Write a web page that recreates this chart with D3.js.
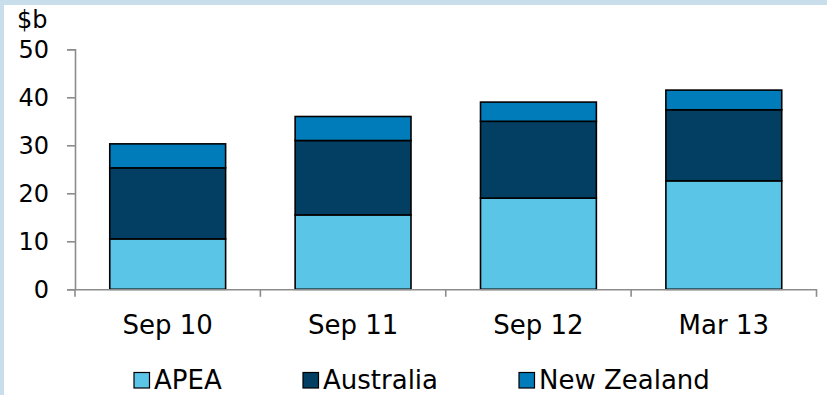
<!DOCTYPE html>
<html>
<head>
<meta charset="utf-8">
<script src="https://cdn.jsdelivr.net/npm/d3@7"></script>
<style>
  html, body { margin: 0; padding: 0; background: #fff; }
  svg { display: block; }
  text { font-family: "DejaVu Sans", Verdana, sans-serif; fill: #000; }
</style>
</head>
<body>
<svg id="chart" width="827" height="395"></svg>
<script>
const categories = ["Sep 10", "Sep 11", "Sep 12", "Mar 13"];
const apea = [10.5, 15.5, 19.0, 22.6];
const australia = [14.8, 15.5, 16.0, 14.8];
const newZealand = [5.0, 5.0, 4.0, 4.1];
const seriesNames = ["APEA", "Australia", "New Zealand"];
const seriesColors = ["#5bc5e7", "#033f63", "#007cba"];
const yTicks = [0, 10, 20, 30, 40, 50];
const yUnit = "$b";

const rows = categories.map((c, i) => ({
  cat: c, "APEA": apea[i], "Australia": australia[i], "New Zealand": newZealand[i]
}));

const svg = d3.select("#chart");
const W = 827, H = 395;

// frame
svg.append("rect").attr("x", 0).attr("y", 0).attr("width", W).attr("height", H).attr("fill", "#c8dfeb");
svg.append("rect").attr("x", 4).attr("y", 5).attr("width", W - 4).attr("height", H - 5).attr("fill", "#fff");

const x = d3.scaleBand().domain(categories).range([75, 816.5]).padding(0);
const y = d3.scaleLinear().domain([0, 50]).range([289.3, 49.3]);
const barW = x.bandwidth() * 0.625;

const color = d3.scaleOrdinal().domain(seriesNames).range(seriesColors);
const stacked = d3.stack().keys(seriesNames)(rows);

const g = svg.append("g");
stacked.forEach(s => {
  g.selectAll(null).data(s).join("rect")
    .attr("x", d => x(d.data.cat) + (x.bandwidth() - barW) / 2)
    .attr("y", d => y(d[1]))
    .attr("width", barW)
    .attr("height", d => y(d[0]) - y(d[1]))
    .attr("fill", color(s.key))
    .attr("stroke", "#000")
    .attr("stroke-width", 1.6);
});

// y axis
const yAxis = svg.append("g").attr("transform", "translate(75,0)")
  .call(d3.axisLeft(y).tickValues(yTicks).tickSize(8).tickPadding(18).tickFormat(d3.format("d")));
yAxis.select(".domain").attr("stroke", "#8c8c8c").attr("stroke-width", 1.6);
yAxis.selectAll(".tick line").attr("stroke", "#8c8c8c").attr("stroke-width", 1.6);
yAxis.selectAll(".tick text").attr("font-size", 24).attr("font-family", "DejaVu Sans").attr("fill", "#000").attr("dy", "0.34em");

// x axis
const xAxis = svg.append("g").attr("transform", "translate(0,289.3)")
  .call(d3.axisBottom(x).tickSize(0).tickPadding(26));
xAxis.select(".domain").attr("stroke", "#8c8c8c").attr("stroke-width", 1.6);
xAxis.selectAll(".tick text").attr("font-size", 26).attr("font-family", "DejaVu Sans").attr("fill", "#000").attr("dy", "0.71em");
// boundary ticks between categories
const bounds = categories.map(c => x(c)).concat([x.range()[1]]);
xAxis.selectAll(".bound").data(bounds).join("line")
  .attr("x1", d => d).attr("x2", d => d).attr("y1", 0).attr("y2", 7.5)
  .attr("stroke", "#8c8c8c").attr("stroke-width", 1.6);

// unit label
svg.append("text").attr("x", 17).attr("y", 28).attr("font-size", 24).text(yUnit);

// legend
const legendX = [134, 303, 519];
const leg = svg.append("g");
seriesNames.forEach((n, i) => {
  leg.append("rect").attr("x", legendX[i]).attr("y", 372.5).attr("width", 15.5).attr("height", 15.5)
    .attr("fill", color(n)).attr("stroke", "#000").attr("stroke-width", 1.2);
  leg.append("text").attr("x", legendX[i] + 20).attr("y", 388.5).attr("font-size", 26).text(n);
});
</script>
</body>
</html>
